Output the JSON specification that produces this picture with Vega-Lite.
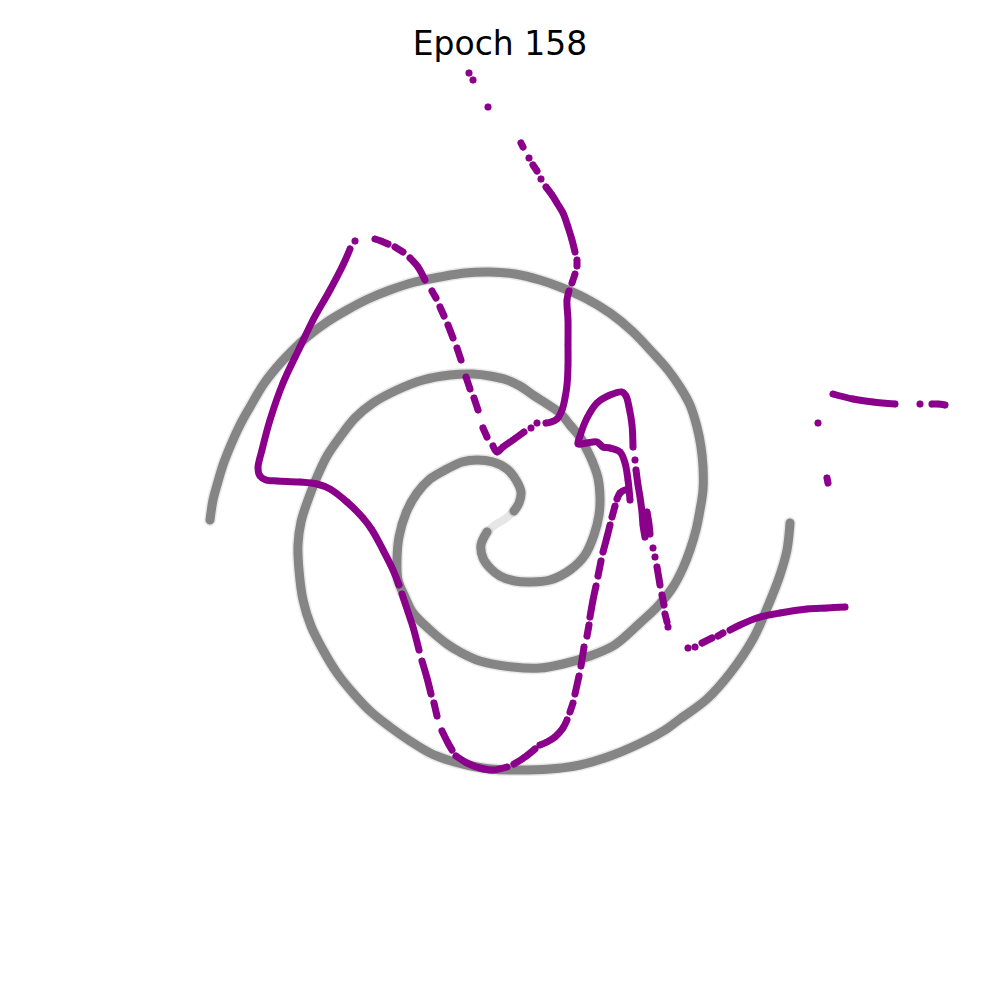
{
  "$schema": "https://vega.github.io/schema/vega-lite/v6.json",
  "width": 1000,
  "height": 1000,
  "autosize": {"type": "fit", "contains": "padding"},
  "padding": 0,
  "background": "white",
  "config": {"view": {"stroke": null}},
  "datasets": {
    "armB": [
      {"i":1,"x":210,"y":520},{"i":2,"x":213,"y":500},{"i":3,"x":217,"y":485},{"i":4,"x":223,"y":465},{"i":5,"x":230,"y":447},{"i":6,"x":240,"y":425},{"i":7,"x":250,"y":407},{"i":8,"x":263,"y":385},{"i":9,"x":277,"y":367},{"i":10,"x":292,"y":351},{"i":11,"x":307,"y":337},{"i":12,"x":327,"y":322},{"i":13,"x":347,"y":310},{"i":14,"x":368,"y":299},{"i":15,"x":390,"y":290},{"i":16,"x":415,"y":282},{"i":17,"x":440,"y":277},{"i":18,"x":465,"y":273},{"i":19,"x":490,"y":272},{"i":20,"x":515,"y":274},{"i":21,"x":540,"y":280},{"i":22,"x":560,"y":287},{"i":23,"x":585,"y":298},{"i":24,"x":610,"y":313},{"i":25,"x":632,"y":331},{"i":26,"x":653,"y":353},{"i":27,"x":668,"y":370},{"i":28,"x":680,"y":387},{"i":29,"x":690,"y":405},{"i":30,"x":697,"y":427},{"i":31,"x":701,"y":447},{"i":32,"x":703,"y":467},{"i":33,"x":703,"y":490},{"i":34,"x":700,"y":510},{"i":35,"x":696,"y":530},{"i":36,"x":690,"y":550},{"i":37,"x":683,"y":568},{"i":38,"x":673,"y":587},{"i":39,"x":658,"y":606},{"i":40,"x":640,"y":623},{"i":41,"x":627,"y":635},{"i":42,"x":613,"y":646},{"i":43,"x":590,"y":656},{"i":44,"x":563,"y":664},{"i":45,"x":540,"y":668},{"i":46,"x":513,"y":667},{"i":47,"x":480,"y":661},{"i":48,"x":460,"y":652},{"i":49,"x":447,"y":644},{"i":50,"x":430,"y":630},{"i":51,"x":413,"y":613},{"i":52,"x":405,"y":597},{"i":53,"x":398,"y":580},{"i":54,"x":397,"y":560},{"i":55,"x":399,"y":537},{"i":56,"x":406,"y":513},{"i":57,"x":417,"y":493},{"i":58,"x":430,"y":479},{"i":59,"x":447,"y":469},{"i":60,"x":462,"y":462},{"i":61,"x":477,"y":460},{"i":62,"x":493,"y":462},{"i":63,"x":507,"y":469},{"i":64,"x":516,"y":480},{"i":65,"x":521,"y":492},{"i":66,"x":519,"y":503},{"i":67,"x":514,"y":511}
    ],
    "core": [
      {"i":67,"x":514,"y":511},{"i":68,"x":505,"y":519},{"i":69,"x":495,"y":525},{"i":70,"x":487,"y":532}
    ],
    "armA": [
      {"i":70,"x":487,"y":532},{"i":71,"x":481,"y":545},{"i":72,"x":483,"y":558},{"i":73,"x":490,"y":568},{"i":74,"x":500,"y":576},{"i":75,"x":515,"y":581},{"i":76,"x":530,"y":582},{"i":77,"x":550,"y":580},{"i":78,"x":570,"y":570},{"i":79,"x":585,"y":555},{"i":80,"x":594,"y":535},{"i":81,"x":599,"y":515},{"i":82,"x":600,"y":497},{"i":83,"x":598,"y":478},{"i":84,"x":593,"y":463},{"i":85,"x":587,"y":450},{"i":86,"x":580,"y":437},{"i":87,"x":570,"y":425},{"i":88,"x":560,"y":413},{"i":89,"x":547,"y":404},{"i":90,"x":533,"y":395},{"i":91,"x":520,"y":386},{"i":92,"x":507,"y":380},{"i":93,"x":490,"y":376},{"i":94,"x":473,"y":374},{"i":95,"x":450,"y":375},{"i":96,"x":423,"y":380},{"i":97,"x":397,"y":390},{"i":98,"x":373,"y":403},{"i":99,"x":355,"y":418},{"i":100,"x":340,"y":437},{"i":101,"x":327,"y":456},{"i":102,"x":317,"y":477},{"i":103,"x":308,"y":500},{"i":104,"x":301,"y":522},{"i":105,"x":298,"y":545},{"i":106,"x":299,"y":570},{"i":107,"x":303,"y":600},{"i":108,"x":311,"y":626},{"i":109,"x":323,"y":650},{"i":110,"x":337,"y":673},{"i":111,"x":353,"y":693},{"i":112,"x":370,"y":711},{"i":113,"x":390,"y":727},{"i":114,"x":410,"y":741},{"i":115,"x":430,"y":753},{"i":116,"x":448,"y":760},{"i":117,"x":467,"y":765},{"i":118,"x":490,"y":769},{"i":119,"x":513,"y":770},{"i":120,"x":550,"y":769},{"i":121,"x":580,"y":765},{"i":122,"x":613,"y":755},{"i":123,"x":647,"y":740},{"i":124,"x":665,"y":730},{"i":125,"x":680,"y":719},{"i":126,"x":707,"y":699},{"i":127,"x":731,"y":672},{"i":128,"x":753,"y":639},{"i":129,"x":768,"y":606},{"i":130,"x":780,"y":575},{"i":131,"x":787,"y":550},{"i":132,"x":790,"y":523}
    ],
    "purple": [
      {"s":1,"i":1,"x":469,"y":73},
      {"s":2,"i":2,"x":473,"y":80},
      {"s":3,"i":3,"x":488,"y":107},
      {"s":4,"i":4,"x":521,"y":143},{"s":4,"i":5,"x":523,"y":147},
      {"s":5,"i":6,"x":529,"y":158},
      {"s":6,"i":7,"x":533,"y":165},{"s":6,"i":8,"x":537,"y":171},
      {"s":7,"i":9,"x":541,"y":179},
      {"s":8,"i":10,"x":546,"y":187},{"s":8,"i":11,"x":552,"y":195},{"s":8,"i":12,"x":557,"y":203},{"s":8,"i":13,"x":563,"y":213},{"s":8,"i":14,"x":568,"y":227},{"s":8,"i":15,"x":572,"y":240},{"s":8,"i":16,"x":575,"y":252},
      {"s":9,"i":17,"x":577,"y":260},{"s":9,"i":18,"x":577,"y":266},
      {"s":10,"i":19,"x":575,"y":274},{"s":10,"i":20,"x":572,"y":283},
      {"s":11,"i":21,"x":569,"y":291},{"s":11,"i":22,"x":567,"y":300},{"s":11,"i":23,"x":568,"y":320},{"s":11,"i":24,"x":568,"y":345},{"s":11,"i":25,"x":568,"y":365},{"s":11,"i":26,"x":567,"y":385},{"s":11,"i":27,"x":565,"y":398},{"s":11,"i":28,"x":562,"y":410},{"s":11,"i":29,"x":557,"y":419},{"s":11,"i":30,"x":551,"y":422},{"s":11,"i":31,"x":546,"y":423},
      {"s":12,"i":32,"x":537,"y":423},
      {"s":13,"i":33,"x":531,"y":428},
      {"s":14,"i":34,"x":524,"y":432},{"s":14,"i":35,"x":513,"y":440},{"s":14,"i":36,"x":503,"y":447},{"s":14,"i":37,"x":497,"y":452},{"s":14,"i":38,"x":493,"y":446},
      {"s":15,"i":39,"x":487,"y":437},{"s":15,"i":40,"x":483,"y":428},
      {"s":16,"i":41,"x":478,"y":410},{"s":16,"i":42,"x":474,"y":398},
      {"s":17,"i":43,"x":470,"y":389},{"s":17,"i":44,"x":466,"y":377},
      {"s":18,"i":45,"x":461,"y":360},{"s":18,"i":46,"x":457,"y":348},
      {"s":19,"i":47,"x":453,"y":338},{"s":19,"i":48,"x":448,"y":325},
      {"s":20,"i":49,"x":444,"y":316},{"s":20,"i":50,"x":440,"y":307},
      {"s":21,"i":51,"x":436,"y":298},{"s":21,"i":52,"x":432,"y":291},
      {"s":22,"i":53,"x":425,"y":280},{"s":22,"i":54,"x":418,"y":267},{"s":22,"i":55,"x":410,"y":258},
      {"s":23,"i":56,"x":403,"y":252},{"s":23,"i":57,"x":395,"y":247},
      {"s":24,"i":58,"x":388,"y":244},{"s":24,"i":59,"x":381,"y":241},{"s":24,"i":60,"x":375,"y":239},
      {"s":25,"i":61,"x":355,"y":241},
      {"s":26,"i":62,"x":350,"y":249},{"s":26,"i":63,"x":343,"y":265},{"s":26,"i":64,"x":330,"y":290},{"s":26,"i":65,"x":313,"y":320},{"s":26,"i":66,"x":300,"y":347},{"s":26,"i":67,"x":283,"y":383},{"s":26,"i":68,"x":270,"y":420},{"s":26,"i":69,"x":262,"y":450},{"s":26,"i":70,"x":258,"y":468},{"s":26,"i":71,"x":260,"y":476},{"s":26,"i":72,"x":266,"y":480},{"s":26,"i":73,"x":277,"y":481},{"s":26,"i":74,"x":300,"y":482},{"s":26,"i":75,"x":317,"y":484},{"s":26,"i":76,"x":330,"y":489},{"s":26,"i":77,"x":347,"y":502},{"s":26,"i":78,"x":363,"y":518},{"s":26,"i":79,"x":372,"y":530},{"s":26,"i":80,"x":383,"y":550},{"s":26,"i":81,"x":393,"y":570},{"s":26,"i":82,"x":399,"y":585},
      {"s":27,"i":83,"x":402,"y":594},{"s":27,"i":84,"x":408,"y":612},{"s":27,"i":85,"x":413,"y":627},{"s":27,"i":86,"x":419,"y":650},
      {"s":28,"i":87,"x":422,"y":661},{"s":28,"i":88,"x":427,"y":678},{"s":28,"i":89,"x":431,"y":694},
      {"s":29,"i":90,"x":434,"y":703},{"s":29,"i":91,"x":437,"y":716},
      {"s":30,"i":92,"x":442,"y":731},{"s":30,"i":93,"x":448,"y":743},{"s":30,"i":94,"x":452,"y":750},
      {"s":31,"i":95,"x":456,"y":756},{"s":31,"i":96,"x":467,"y":763},{"s":31,"i":97,"x":480,"y":768},{"s":31,"i":98,"x":493,"y":770},{"s":31,"i":99,"x":507,"y":767},
      {"s":32,"i":100,"x":514,"y":764},{"s":32,"i":101,"x":525,"y":757},{"s":32,"i":102,"x":535,"y":749},
      {"s":33,"i":103,"x":540,"y":745},{"s":33,"i":104,"x":547,"y":742},{"s":33,"i":105,"x":555,"y":737},{"s":33,"i":106,"x":563,"y":728},{"s":33,"i":107,"x":567,"y":720},
      {"s":34,"i":108,"x":570,"y":712},{"s":34,"i":109,"x":573,"y":703},
      {"s":35,"i":110,"x":575,"y":694},{"s":35,"i":111,"x":579,"y":676},
      {"s":36,"i":112,"x":581,"y":666},{"s":36,"i":113,"x":584,"y":647},
      {"s":37,"i":114,"x":587,"y":636},{"s":37,"i":115,"x":589,"y":625},
      {"s":38,"i":116,"x":590,"y":617},{"s":38,"i":117,"x":593,"y":600},{"s":38,"i":118,"x":596,"y":586},
      {"s":39,"i":119,"x":598,"y":576},{"s":39,"i":120,"x":601,"y":561},
      {"s":40,"i":121,"x":603,"y":552},{"s":40,"i":122,"x":607,"y":537},{"s":40,"i":123,"x":610,"y":525},
      {"s":41,"i":124,"x":612,"y":517},{"s":41,"i":125,"x":615,"y":506},
      {"s":42,"i":126,"x":617,"y":499},{"s":42,"i":127,"x":620,"y":493},{"s":42,"i":128,"x":625,"y":490},{"s":42,"i":129,"x":628,"y":490},
      {"s":43,"i":130,"x":630,"y":500},{"s":43,"i":131,"x":628,"y":480},{"s":43,"i":132,"x":625,"y":463},{"s":43,"i":133,"x":620,"y":452},{"s":43,"i":134,"x":610,"y":448},{"s":43,"i":135,"x":603,"y":447},{"s":43,"i":136,"x":597,"y":442},{"s":43,"i":137,"x":587,"y":443},{"s":43,"i":138,"x":578,"y":444},{"s":43,"i":139,"x":580,"y":436},{"s":43,"i":140,"x":587,"y":418},{"s":43,"i":141,"x":597,"y":403},{"s":43,"i":142,"x":610,"y":395},{"s":43,"i":143,"x":622,"y":392},{"s":43,"i":144,"x":626,"y":396},{"s":43,"i":145,"x":629,"y":407},{"s":43,"i":146,"x":632,"y":425},{"s":43,"i":147,"x":633,"y":447},
      {"s":44,"i":148,"x":635,"y":460},
      {"s":45,"i":149,"x":636,"y":470},{"s":45,"i":150,"x":638,"y":485},{"s":45,"i":151,"x":640,"y":497},{"s":45,"i":152,"x":642,"y":512},{"s":45,"i":153,"x":643,"y":525},{"s":45,"i":154,"x":645,"y":537},
      {"s":46,"i":155,"x":647,"y":512},{"s":46,"i":156,"x":649,"y":524},{"s":46,"i":157,"x":650,"y":534},
      {"s":47,"i":158,"x":653,"y":548},
      {"s":48,"i":159,"x":655,"y":557},
      {"s":49,"i":160,"x":657,"y":567},{"s":49,"i":161,"x":660,"y":585},
      {"s":50,"i":162,"x":662,"y":595},{"s":50,"i":163,"x":664,"y":605},
      {"s":51,"i":164,"x":665,"y":614},{"s":51,"i":165,"x":667,"y":622},
      {"s":52,"i":166,"x":668,"y":627},
      {"s":53,"i":167,"x":688,"y":648},
      {"s":54,"i":168,"x":695,"y":647},
      {"s":55,"i":169,"x":702,"y":643},{"s":55,"i":170,"x":712,"y":638},
      {"s":56,"i":171,"x":718,"y":636},{"s":56,"i":172,"x":723,"y":633},
      {"s":57,"i":173,"x":730,"y":630},{"s":57,"i":174,"x":740,"y":625},{"s":57,"i":175,"x":757,"y":618},{"s":57,"i":176,"x":780,"y":613},{"s":57,"i":177,"x":807,"y":609},{"s":57,"i":178,"x":827,"y":608},{"s":57,"i":179,"x":845,"y":607},
      {"s":58,"i":180,"x":833,"y":394},{"s":58,"i":181,"x":853,"y":399},{"s":58,"i":182,"x":873,"y":402},{"s":58,"i":183,"x":895,"y":404},
      {"s":59,"i":184,"x":920,"y":404},
      {"s":60,"i":185,"x":932,"y":404},{"s":60,"i":186,"x":938,"y":404},{"s":60,"i":187,"x":945,"y":405},
      {"s":61,"i":188,"x":818,"y":423},
      {"s":62,"i":189,"x":827,"y":478},{"s":62,"i":190,"x":828,"y":483}
    ],
    "title": [{"x":500,"y":55,"label":"Epoch 158"}]
  },
  "encoding": {
    "x": {"field": "x", "type": "quantitative", "scale": {"domain": [0, 1000], "nice": false, "zero": false}, "axis": null},
    "y": {"field": "y", "type": "quantitative", "scale": {"domain": [0, 1000], "nice": false, "zero": false, "reverse": true}, "axis": null}
  },
  "layer": [
    {
      "data": {"name": "armB"},
      "mark": {"type": "line", "color": "#8a8a8a", "strokeWidth": 12, "opacity": 0.2, "interpolate": "catmull-rom", "strokeCap": "round"},
      "encoding": {"order": {"field": "i", "type": "quantitative"}}
    },
    {
      "data": {"name": "armA"},
      "mark": {"type": "line", "color": "#8a8a8a", "strokeWidth": 12, "opacity": 0.2, "interpolate": "catmull-rom", "strokeCap": "round"},
      "encoding": {"order": {"field": "i", "type": "quantitative"}}
    },
    {
      "data": {"name": "armB"},
      "mark": {"type": "line", "color": "#808080", "strokeWidth": 9, "opacity": 0.95, "interpolate": "catmull-rom", "strokeCap": "round"},
      "encoding": {"order": {"field": "i", "type": "quantitative"}}
    },
    {
      "data": {"name": "armA"},
      "mark": {"type": "line", "color": "#808080", "strokeWidth": 9, "opacity": 0.95, "interpolate": "catmull-rom", "strokeCap": "round"},
      "encoding": {"order": {"field": "i", "type": "quantitative"}}
    },
    {
      "data": {"name": "core"},
      "mark": {"type": "line", "color": "#808080", "strokeWidth": 8, "opacity": 0.2, "interpolate": "catmull-rom", "strokeCap": "butt"},
      "encoding": {"order": {"field": "i", "type": "quantitative"}}
    },
    {
      "data": {"name": "purple"},
      "mark": {"type": "line", "color": "#8b008b", "strokeWidth": 7, "interpolate": "catmull-rom", "strokeCap": "round"},
      "encoding": {"detail": {"field": "s", "type": "nominal"}, "order": {"field": "i", "type": "quantitative"}}
    },
    {
      "data": {"name": "purple"},
      "mark": {"type": "circle", "color": "#8b008b", "size": 40, "opacity": 1},
      "encoding": {}
    },
    {
      "data": {"name": "title"},
      "mark": {"type": "text", "font": "DejaVu Sans", "fontSize": 33, "color": "black", "align": "center", "baseline": "alphabetic"},
      "encoding": {"text": {"field": "label", "type": "nominal"}}
    }
  ]
}
